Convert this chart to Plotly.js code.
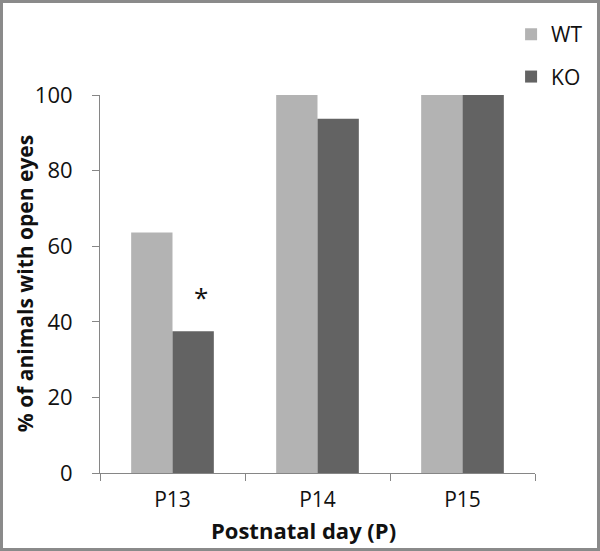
<!DOCTYPE html>
<html>
<head>
<meta charset="utf-8">
<script src="https://cdn.plot.ly/plotly-3.0.1.min.js"></script>
<style>
html,body{margin:0;padding:0;background:#fff;}
#wrap{position:relative;width:600px;height:551px;}
#chart{width:600px;height:551px;}
#frame{position:absolute;left:0;top:0;width:600px;height:551px;box-sizing:border-box;border:3px solid #8a8a8a;pointer-events:none;}
</style>
</head>
<body>
<div id="wrap"><div id="chart"></div><div id="frame"></div></div>
<script>
const categories = ["P13", "P14", "P15"];
const wtValues = [63.6, 100, 100];
const koValues = [37.5, 93.75, 100];
const seriesNames = ["WT", "KO"];
const yTicks = [0, 20, 40, 60, 80, 100];
const sigLabel = "*";
const xTitle = "Postnatal day (P)";
const yTitle = "% of animals with open eyes";

const font = "'Open Sans', sans-serif";

const traces = [
  {type: "bar", name: seriesNames[0], x: categories, y: wtValues,
   marker: {color: "#b3b3b3"}, legendgroup: "a"},
  {type: "bar", name: seriesNames[1], x: categories, y: koValues,
   marker: {color: "#636363"}, legendgroup: "b"}
];

const layout = {
  width: 600, height: 551,
  margin: {l: 100, r: 50, t: 95, b: 78},
  paper_bgcolor: "#fff", plot_bgcolor: "#fff",
  font: {family: font, color: "#111", size: 20},
  barmode: "group", bargap: 0.43, bargroupgap: 0,
  showlegend: true,
  legend: {x: 0.945, y: 1.214, xanchor: "left", yanchor: "top",
    font: {family: font, size: 21, color: "#111"},
    traceorder: "grouped", tracegroupgap: 12, bgcolor: "rgba(0,0,0,0)"},
  xaxis: {
    showline: true, linecolor: "#868686", linewidth: 1,
    ticks: "outside", tickson: "boundaries", ticklen: 7, tickcolor: "#868686",
    tickfont: {family: font, size: 21, color: "#111"},
    ticklabelstandoff: 8,
    showgrid: false, zeroline: false
  },
  yaxis: {
    range: [0, 100], tickvals: yTicks, automargin: false,
    showline: true, linecolor: "#868686", linewidth: 1,
    ticks: "outside", ticklen: 7, tickcolor: "#868686",
    tickfont: {family: font, size: 22, color: "#111"},
    ticklabelstandoff: 15,
    showgrid: false, zeroline: false
  },
  annotations: [{
    x: categories[0], y: koValues[0], xref: "x", yref: "y",
    text: sigLabel, showarrow: false, xanchor: "center", yanchor: "bottom",
    xshift: 28, yshift: 14, font: {family: font, size: 26, color: "#111"}
  }, {
    x: -0.172, y: 0.5, xref: "paper", yref: "paper",
    text: "<b>" + yTitle + "</b>", textangle: -90, showarrow: false,
    xanchor: "center", yanchor: "middle",
    font: {family: font, size: 21, color: "#111"}
  }, {
    x: 0.467, y: -0.152, xref: "paper", yref: "paper",
    text: "<b>" + xTitle + "</b>", showarrow: false,
    xanchor: "center", yanchor: "middle",
    font: {family: font, size: 22, color: "#111"}
  }]
};

Plotly.newPlot("chart", traces, layout, {displayModeBar: false, staticPlot: true});
</script>
</body>
</html>
